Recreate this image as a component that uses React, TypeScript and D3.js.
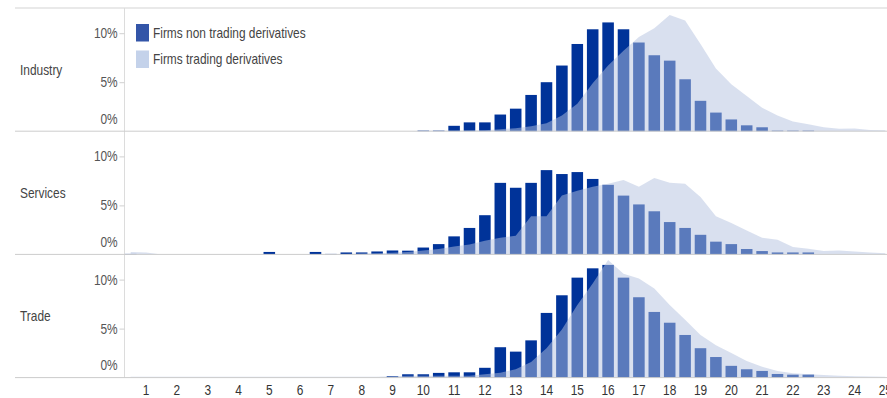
import React, { useRef, useEffect } from 'react'
import { select, scaleBand, scaleLinear, area, axisBottom, axisLeft } from 'd3'

const width = 887
const height = 398

// half-year buckets along the x axis
const categories = [
	0.5, 1, 1.5, 2, 2.5, 3, 3.5, 4, 4.5, 5,
	5.5, 6, 6.5, 7, 7.5, 8, 8.5, 9, 9.5, 10,
	10.5, 11, 11.5, 12, 12.5, 13, 13.5, 14, 14.5, 15,
	15.5, 16, 16.5, 17, 17.5, 18, 18.5, 19, 19.5, 20,
	20.5, 21, 21.5, 22, 22.5, 23, 23.5, 24, 24.5, 25,
]
const xTickLabels = [1, 2, 3, 4, 5, 6, 7, 8, 9, 10, 11, 12, 13, 14, 15, 16, 17, 18, 19, 20, 21, 22, 23, 24, 25]
const yTickValues = [0, 5, 10]
const sectors = ['Industry', 'Services', 'Trade']
const seriesNames = ['Firms non trading derivatives', 'Firms trading derivatives']

// share of firms (%) per bucket
const industryNonTrading = [
	0, 0, 0, 0, 0, 0, 0, 0, 0, 0,
	0, 0, 0, 0, 0, 0, 0, 0, 0, 0.06,
	0.06, 0.55, 0.9, 0.9, 1.7, 2.3, 3.7, 5.0, 6.7, 8.9,
	10.4, 11.1, 10.4, 9.05, 7.75, 7.2, 5.3, 3.1, 1.9, 1.2,
	0.6, 0.4, 0.06, 0.06, 0.06, 0, 0, 0, 0, 0,
]
const industryTrading = [
	0, 0, 0, 0, 0, 0, 0, 0, 0, 0,
	0, 0, 0, 0, 0, 0, 0, 0, 0, 0.04,
	0.04, 0.05, 0.08, 0.1, 0.2, 0.3, 0.5, 0.8, 1.6, 2.8,
	4.9, 6.7, 8.2, 9.6, 10.5, 11.85, 11.3, 8.9, 6.4, 4.8,
	3.6, 2.4, 1.6, 1.0, 0.7, 0.4, 0.25, 0.27, 0.13, 0.1,
]
const servicesNonTrading = [
	0.05, 0, 0, 0, 0, 0, 0, 0, 0, 0.25,
	0, 0, 0.25, 0.05, 0.2, 0.2, 0.3, 0.4, 0.38, 0.7,
	1.05, 1.84, 2.7, 4.0, 7.3, 6.8, 7.3, 8.6, 8.2, 8.4,
	7.7, 7.1, 6.0, 5.1, 4.4, 3.3, 2.7, 2.0, 1.3, 1.05,
	0.55, 0.34, 0.2, 0.2, 0.2, 0, 0, 0, 0, 0,
]
const servicesTrading = [
	0.25, 0.2, 0, 0, 0, 0, 0, 0, 0, 0.03,
	0, 0, 0.03, 0.03, 0.05, 0.08, 0.12, 0.18, 0.24, 0.4,
	0.55, 0.8, 1.0, 1.4, 1.7, 1.9, 3.9, 3.9, 6.0, 6.5,
	6.9, 7.2, 7.6, 6.9, 7.8, 7.3, 7.2, 5.85, 3.9, 3.2,
	2.45, 1.7, 1.5, 0.75, 0.57, 0.34, 0.4, 0.3, 0.2, 0.13,
]
const tradeNonTrading = [
	0, 0, 0, 0, 0, 0, 0, 0, 0, 0,
	0, 0, 0, 0, 0, 0, 0, 0.15, 0.34, 0.34,
	0.48, 0.54, 0.54, 1.0, 3.1, 2.65, 3.8, 6.6, 8.4, 10.2,
	11.15, 11.5, 10.2, 8.2, 6.7, 5.6, 4.35, 3.0, 2.1, 1.2,
	0.85, 0.68, 0.37, 0.3, 0.3, 0, 0, 0, 0, 0,
]
const tradeTrading = [
	0.08, 0.08, 0.08, 0.08, 0.08, 0.08, 0.08, 0.08, 0.08, 0.08,
	0.08, 0.08, 0.08, 0.08, 0.08, 0.08, 0.08, 0.15, 0.2, 0.2,
	0.2, 0.2, 0.2, 0.34, 0.5, 0.85, 1.6, 3.0, 4.9, 7.4,
	9.6, 12.0, 10.6, 10.1, 9.1, 7.4, 5.9, 4.35, 3.3, 2.5,
	1.7, 1.1, 0.68, 0.44, 0.34, 0.27, 0.2, 0.15, 0.1, 0.08,
]

const nonTrading = [industryNonTrading, servicesNonTrading, tradeNonTrading]
const trading = [industryTrading, servicesTrading, tradeTrading]

const font = '"Liberation Sans", Arial, sans-serif'
const squeeze = 'scale(0.85,1)'

function App() {
	const svgRef = useRef(null)

	useEffect(() => {
		const svg = select(svgRef.current)
		svg.selectAll('*').remove()

		const plotLeft = 124.5
		const panelTop = 8
		const panelH = 123.2

		const x = scaleBand()
			.domain(categories.map(String))
			.range([123, 893])
			.paddingInner(0.25)
			.paddingOuter(0.125)
		const cx = (c) => x(String(c)) + x.bandwidth() / 2

		// frame lines
		svg.append('line')
			.attr('x1', 15).attr('x2', width)
			.attr('y1', panelTop).attr('y2', panelTop)
			.attr('stroke', '#e2e2e2').attr('stroke-width', 1.5)
		svg.append('line')
			.attr('x1', plotLeft).attr('x2', plotLeft)
			.attr('y1', panelTop).attr('y2', panelTop + panelH * 3)
			.attr('stroke', '#dcdcdc')

		sectors.forEach((name, k) => {
			const base = panelTop + panelH * (k + 1)
			const y = scaleLinear().domain([0, 10]).range([base, base - 98])
			const g = svg.append('g')

			g.selectAll('.bar')
				.data(nonTrading[k])
				.join('rect')
				.attr('class', 'bar')
				.attr('x', (d, i) => x(String(categories[i])))
				.attr('width', x.bandwidth())
				.attr('y', (d) => y(d))
				.attr('height', (d) => base - y(d))
				.attr('fill', '#003399')

			const shape = area()
				.x((d, i) => cx(categories[i]))
				.y0(base)
				.y1((d) => y(d))
			g.append('path')
				.datum(trading[k])
				.attr('d', shape)
				.attr('fill', 'rgb(180,194,223)')
				.attr('fill-opacity', 0.5)

			g.append('line')
				.attr('x1', 15).attr('x2', width)
				.attr('y1', base).attr('y2', base)
				.attr('stroke', '#cccccc')

			const yAxis = axisLeft(y)
				.tickValues(yTickValues)
				.tickSize(5)
				.tickPadding(3)
				.tickFormat((d) => d + '%')
			const ya = g.append('g')
				.attr('transform', `translate(${plotLeft},0)`)
				.call(yAxis)
			ya.select('.domain').remove()
			ya.selectAll('line').attr('stroke', '#d0d0d0')
			ya.selectAll('text')
				.attr('font-family', font)
				.attr('font-size', 14)
				.attr('fill', '#555')
				.attr('transform', squeeze)
			ya.selectAll('.tick')
				.filter((d) => d === 0)
				.attr('transform', `translate(0,${base - 11.7})`)
				.select('line').remove()

			g.append('text')
				.attr('transform', `translate(20,${base - 61.5}) ${squeeze}`)
				.attr('dominant-baseline', 'central')
				.attr('font-family', font)
				.attr('font-size', 14)
				.attr('fill', '#444')
				.text(name)
		})

		// x axis labels
		const xAxis = axisBottom(x)
			.tickValues(xTickLabels.map(String))
			.tickSize(0)
			.tickPadding(7)
		const xa = svg.append('g')
			.attr('transform', `translate(0,${panelTop + panelH * 3})`)
			.call(xAxis)
		xa.select('.domain').remove()
		xa.selectAll('text')
			.attr('font-family', font)
			.attr('font-size', 14)
			.attr('fill', '#333')
			.attr('transform', squeeze)

		// legend
		const legendColors = ['#3355a8', '#c4d2ea']
		const legend = svg.append('g')
		seriesNames.forEach((s, i) => {
			legend.append('rect')
				.attr('x', 136).attr('y', 24 + i * 26.5)
				.attr('width', 13).attr('height', 17.5)
				.attr('fill', legendColors[i])
			legend.append('text')
				.attr('transform', `translate(153,${33 + i * 26.3}) ${squeeze}`)
				.attr('dominant-baseline', 'central')
				.attr('font-family', font)
				.attr('font-size', 14)
				.attr('fill', '#444')
				.text(s)
		})
	}, [])

	return (
		<svg
			ref={svgRef}
			width={width}
			height={height}
			style={{ position: 'absolute', left: 0, top: 0, background: '#fff' }}
		/>
	)
}

export default App
